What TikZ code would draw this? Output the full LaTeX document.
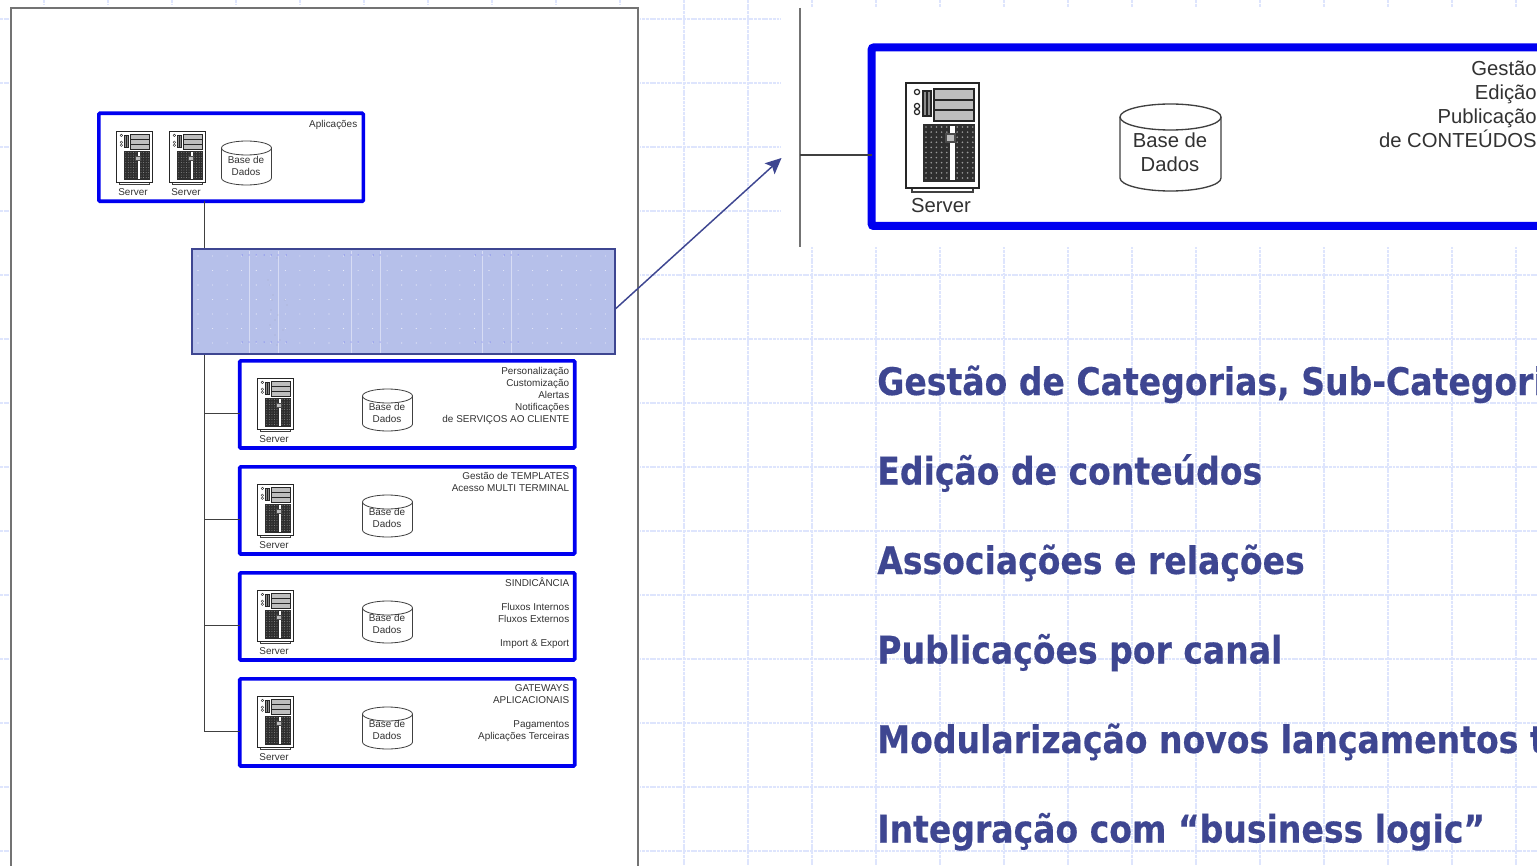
\documentclass[tikz,border=0pt]{standalone}
\usepackage{fontspec}
\setmainfont{Liberation Sans}
\newfontfamily\headfont{DejaVu Sans Condensed}[BoldFont={DejaVu Sans Condensed Bold},BoldFeatures={FakeStretch=0.967,FakeBold=0.35}]
\usetikzlibrary{arrows.meta}
\definecolor{bluebox}{RGB}{0,0,240}
\definecolor{navyt}{RGB}{62,70,145}
\definecolor{gridc}{RGB}{222,229,253}
\definecolor{hilite}{RGB}{182,192,234}
\definecolor{txtg}{RGB}{50,50,50}
\definecolor{panel}{RGB}{190,190,190}
\tikzset{
  px/.style={x=0.75pt,y=-0.75pt},
  gridline/.style={draw=gridc,line width=0.9pt,dash pattern=on 2.2pt off 0.6pt},
  sbox/.style={draw=bluebox,line width=2.7pt,rounded corners=0.8pt,fill=white,anchor=north west,inner sep=0pt,outer sep=0pt},
  lbox/.style={draw=bluebox,line width=6pt,rounded corners=1.5pt,fill=white,anchor=north west,inner sep=0pt,outer sep=0pt},
  conn/.style={draw=black!75,line width=0.75pt},
  smalltxt/.style={font=\fontsize{7.45pt}{9pt}\selectfont,text=txtg,align=right,inner sep=0pt,anchor=north east},
  smallc/.style={font=\fontsize{7.45pt}{9pt}\selectfont,text=txtg,align=center,inner sep=0pt},
  bigc/.style={font=\fontsize{15.2pt}{18pt}\selectfont,text=txtg,align=center,inner sep=0pt},
  bigr/.style={font=\fontsize{15.2pt}{18pt}\selectfont,text=txtg,align=right,inner sep=0pt,anchor=north east},
  headline/.style={font=\headfont\bfseries\fontsize{28.5pt}{32pt}\selectfont,text=navyt,anchor=base west,inner sep=0pt},
}
% server: #1 x, #2 y (top-left), #3 scale relative to a 73 x 109 px drawing, #4 line width
\newcommand{\srvicon}[4]{%
\begin{scope}[shift={(#1,#2)},x=#3*0.75pt,y=-#3*0.75pt,line width=#4]
  \draw[fill=white,draw=black!75] (6,105) -- (6,109) -- (67,109) -- (67,105);
  \draw[fill=white,draw=black!85] (0,0) rectangle (73,105);
  \fill[fill=panel,draw=black!85] (28,6) rectangle (68,17);
  \fill[fill=panel,draw=black!85] (28,17) rectangle (68,27);
  \fill[fill=panel,draw=black!85] (28,27) rectangle (68,38);
  \fill[fill=black!45,draw=black!85] (17,8) rectangle (25,33);
  \draw[draw=black!85] (21,8) -- (21,33);
  \draw[draw=black!85] (11,9) circle (2.6);
  \draw[draw=black!85] (11,23) circle (2.6);
  \draw[draw=black!85] (11,29) circle (2.6);
  \fill[black!82] (17,41) rectangle (69,99);
  \foreach \ix in {0,...,9}{\foreach \iy in {0,...,10}{
    \fill[black!40] ({20+\ix*5.2},{44+\iy*5.1}) circle (0.9);}}
  \fill[white] (44,43) rectangle (49,97);
  \fill[panel,draw=black!70] (40,51) rectangle (49,59);
\end{scope}}
% cylinder outline: #1 cx, #2 top y, #3 half width, #4 height, #5 ellipse ry, #6 lw
\newcommand{\dbicon}[6]{%
  \draw[draw=black!75,line width=#6,fill=white] (#1-#3,#2+#5) arc[start angle=180,end angle=360,x radius=#3,y radius=#5]
     -- (#1+#3,#2+#4-#5) arc[start angle=0,end angle=180,x radius=#3,y radius=#5] -- cycle;
  \draw[draw=black!75,line width=#6] (#1-#3,#2+#5) arc[start angle=180,end angle=0,x radius=#3,y radius=#5];}
\begin{document}
\begin{tikzpicture}[px]
\useasboundingbox (0,0) rectangle (1537,866);
\clip (0,0) rectangle (1537,866);
\fill[white] (0,0) rectangle (1537,866);
% background grid
\foreach \gx in {44,108,...,1537}{\draw[gridline] (\gx,0) -- (\gx,866);}
\foreach \gy in {19,83,...,866}{\draw[gridline] (0,\gy) -- (1537,\gy);}
\fill[white] (9,5) rectangle (640,866);
\fill[white] (781,7) rectangle (1537,247);
% left page
\node[draw=black!55,line width=1.1pt,fill=white,anchor=north west,minimum width=627*0.75pt,minimum height=880*0.75pt,inner sep=0pt,outer sep=0pt] (page) at (11,8) {};
% bus and boxes
\node[sbox,minimum width=264.5*0.75pt,minimum height=88*0.75pt] (apps) at (98.8,113.3) {};
\node[sbox,minimum width=335*0.75pt,minimum height=87.2*0.75pt] (s1) at (239.7,360.8) {};
\node[sbox,minimum width=335*0.75pt,minimum height=87.2*0.75pt] (s2) at (239.7,466.8) {};
\node[sbox,minimum width=335*0.75pt,minimum height=87.2*0.75pt] (s3) at (239.7,572.8) {};
\node[sbox,minimum width=335*0.75pt,minimum height=87.2*0.75pt] (s4) at (239.7,678.8) {};
\coordinate (busTop) at (204,201);
\coordinate (b1) at (204,413);
\coordinate (b2) at (204,519);
\coordinate (b3) at (204,625);
\coordinate (b4) at (204,731);
\draw[conn] (busTop) -- (b4);
\foreach \n in {1,...,4}{\draw[conn] (b\n) -- (s\n.west |- b\n);}
% highlight
\node[draw=navyt,line width=1.3pt,fill=hilite,anchor=north west,minimum width=423*0.75pt,minimum height=105*0.75pt,inner sep=0pt,outer sep=0pt] (hl) at (192,249.3) {};
\foreach \lx in {249,278,351,380,482,511}{\draw[white!45!hilite,line width=0.4pt] (\lx,251) -- (\lx,353);}
\foreach \dx in {0,...,28}{\foreach \dy in {0,...,6}{
  \fill[white!75!hilite] ({198+\dx*14.55},{256+\dy*14.5}) circle (0.55);}}
\foreach \dx in {242,249,256,264,271,278,286,344,351,358,373,380,475,482,490,504,511,518}{
  \fill[blue!55!hilite] (\dx,255) circle (0.5);
  \fill[blue!55!hilite] (\dx,342) circle (0.5);}
\foreach \dx/\dy in {268/280,270/285,272/300,273/295,271/310,275/320,278/315,280/340,285/300,287/305,277/258,277/345,270/325,275/335,283/330}{\fill[black!45] (\dx,\dy) circle (0.45);}
% arrow
\coordinate (arrowEnd) at (781.5,158);
\draw[navyt,line width=1.1pt,-{Stealth[length=12pt,width=11pt,inset=2.5pt]}] (hl.east) ++(0,7.5) -- (arrowEnd);
% small icons
\srvicon{116}{131}{0.49}{0.3pt}
\srvicon{169}{131}{0.49}{0.3pt}
\dbicon{246.5}{141}{25}{44}{7}{0.6pt}
\node[smallc] (ta) at (133,192) {Server};
\node[smallc] (tb) at (186,192) {Server};
\node[smallc] (tc) at (246,165.5) {Base de\\Dados};
\node[smalltxt] (td) at (357.5,120.3) {Aplicações};
\foreach \yy in {378,484,590,696}{
  \srvicon{257}{\yy}{0.49}{0.3pt}
  \dbicon{387.5}{\yy+11}{25}{42}{7}{0.6pt}
}
\node[smallc] (l1a) at (274,439) {Server};
\node[smallc] (l2a) at (274,545) {Server};
\node[smallc] (l3a) at (274,651) {Server};
\node[smallc] (l4a) at (274,757) {Server};
\node[smallc] (l1b) at (387,413) {Base de\\Dados};
\node[smallc] (l2b) at (387,518) {Base de\\Dados};
\node[smallc] (l3b) at (387,624) {Base de\\Dados};
\node[smallc] (l4b) at (387,730) {Base de\\Dados};
\node[smalltxt] (l1c) at (569.5,367.3) {Personalização\\Customização\\Alertas\\Notificações\\de SERVIÇOS AO CLIENTE};
\node[smalltxt] (l2c) at (569.5,472.5) {Gestão de TEMPLATES\\Acesso MULTI TERMINAL};
\node[smalltxt] (l3c) at (569.5,577.3) {SINDICÂNCIA\\[9pt]Fluxos Internos\\Fluxos Externos\\[9pt]Import \& Export};
\node[smalltxt] (l4c) at (569.5,684.3) {GATEWAYS\\APLICACIONAIS\\[9pt]Pagamentos\\Aplicações Terceiras};
% inset
\coordinate (busA) at (800,8);
\coordinate (busB) at (800,247);
\coordinate (busC) at (800,155);
\draw[draw=black!55,line width=1.8pt] (busA) -- (busB);
\node[lbox,minimum width=800*0.75pt,minimum height=178.5*0.75pt] (big) at (871.7,47.5) {};
\draw[conn,line width=1pt] (busC) -- (busC -| big.west);
\srvicon{906}{83}{1}{0.9pt}
\dbicon{1170.5}{104}{50.5}{87}{13}{1pt}
\node[bigc] (ia) at (941,206) {Server};
\node[bigc] (ib) at (1170,152) {Base de\\Dados};
\node[bigr] (ic) at (1537,61) {Gestão\\Edição\\Publicação\\de CONTEÚDOS};
% bullets
\node[headline] (h1) at (877,395) {Gestão de Categorias, Sub-Categori};
\node[headline] (h2) at (877,484.5) {Edição de conteúdos};
\node[headline] (h3) at (877,574) {Associações e relações};
\node[headline] (h4) at (877,663.5) {Publicações por canal};
\node[headline] (h5) at (877,753) {Modularização novos lançamentos t};
\node[headline] (h6) at (877,842.5) {Integração com “business logic”};
\end{tikzpicture}
\end{document}
